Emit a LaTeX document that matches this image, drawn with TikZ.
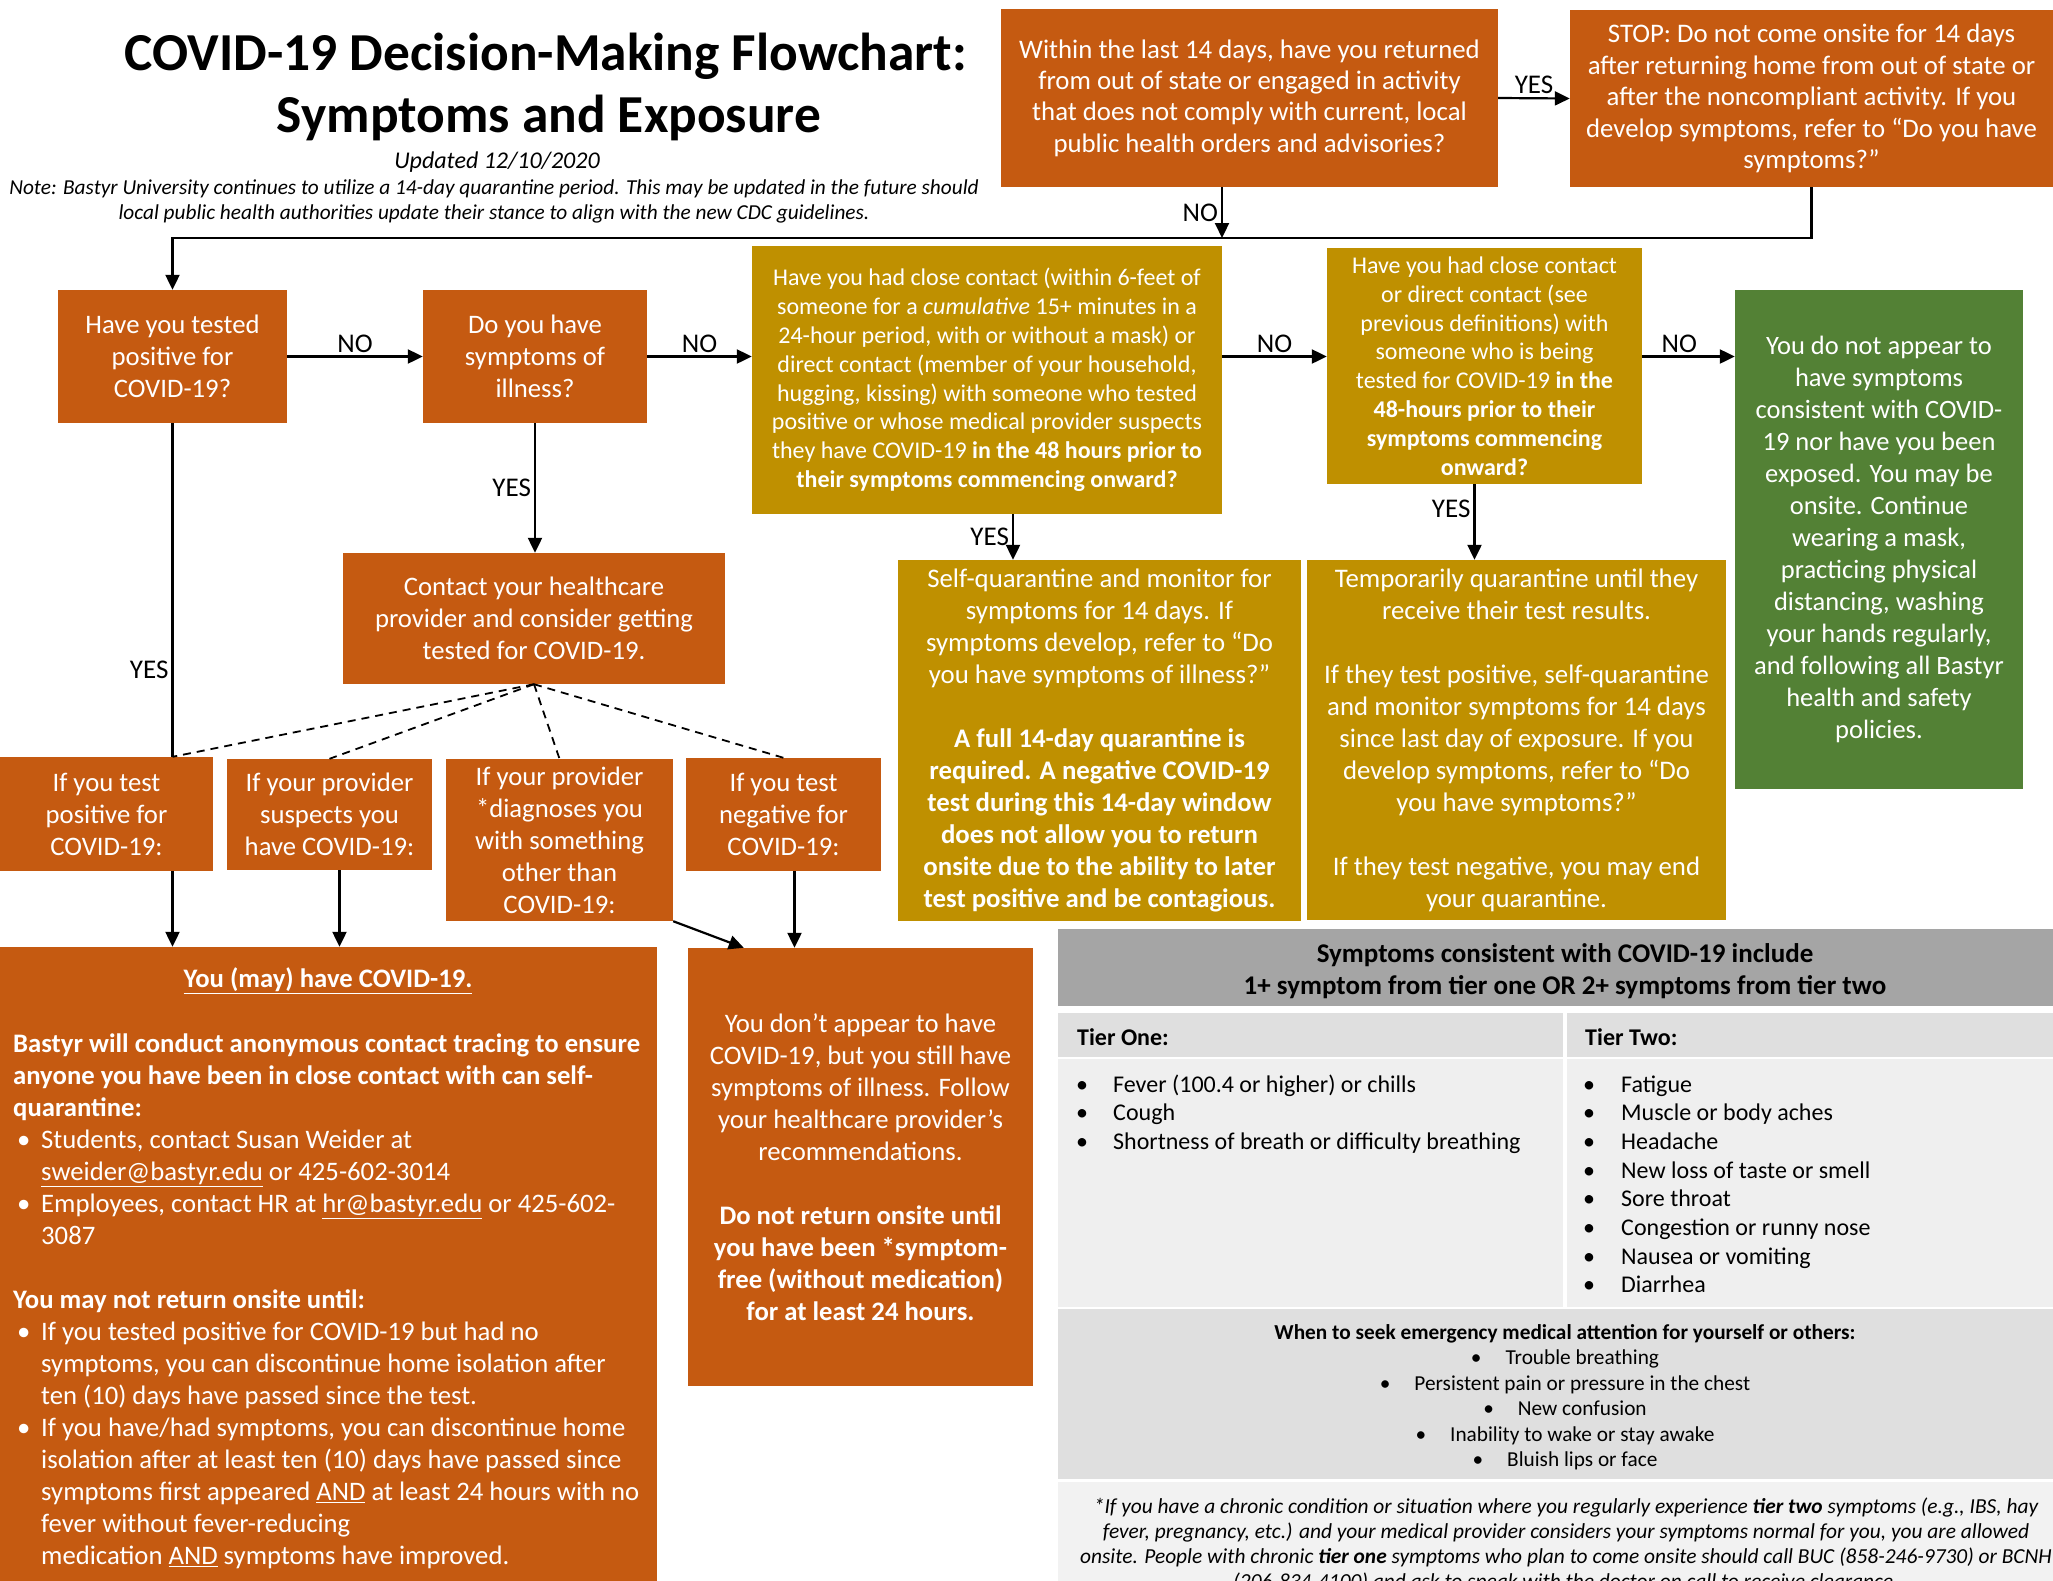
\documentclass[tikz,border=0pt]{standalone}
\usepackage{fontspec}
\setmainfont{Carlito}
\usetikzlibrary{arrows.meta}

\definecolor{rust}{HTML}{C55A11}
\definecolor{mustard}{HTML}{BF9000}
\definecolor{leaf}{HTML}{538135}
\definecolor{headgrey}{HTML}{A5A5A5}
\definecolor{rowgrey}{HTML}{DFDFDF}
\definecolor{cellgrey}{HTML}{EFEFEF}
\definecolor{footgrey}{HTML}{F2F2F2}

\newcommand{\fs}[2]{\fontsize{#1}{#2}\selectfont}
\newcommand{\bulitem}{\makebox[28pt][l]{\hspace{4pt}\textbullet}}
\newcommand{\bulcont}{\hspace*{28pt}}

\begin{document}
\begin{tikzpicture}[x=1pt, y=-1pt,
  flowbox/.style={rectangle, inner sep=0pt, align=center, text=white, font=\fs{26.7}{32}},
  obox/.style={flowbox, fill=rust},
  ybox/.style={flowbox, fill=mustard},
  vbox/.style={flowbox, fill=leaf},
  lbl/.style={font=\fs{27}{30}, inner sep=3pt},
  arr/.style={line width=2.2pt, -{Triangle[length=15pt,width=14pt]}},
  link/.style={line width=2.2pt},
  tiedash/.style={line width=1.8pt, dash pattern=on 8pt off 6pt},
  tieritem/.style={font=\fs{24}{29}, inner sep=0pt, anchor=base west}]
\clip (0,0) rectangle (2053,1580);

% heading
\node[font=\fs{53.4}{64}\bfseries] (title1) at (546,56) {COVID-19 Decision-Making Flowchart:};
\node[font=\fs{53.4}{64}\bfseries] (title2) at (549,118) {Symptoms and Exposure};
\node[font=\fs{24}{29}\itshape] (upd) at (497,162) {Updated 12/10/2020};
\node[font=\fs{21.3}{25}\itshape, align=center] (note) at (494,201) {Note: Bastyr University continues to utilize a 14-day quarantine period. This may be updated in the future should\\local public health authorities update their stance to align with the new CDC guidelines.};

% top row
\node[obox, font=\fs{26.8}{31.4}, minimum width=497pt, minimum height=178pt] (within) at (1249.5,98) {Within the last 14 days, have you returned\\from out of state or engaged in activity\\that does not comply with current, local\\public health orders and advisories?};
\node[obox, font=\fs{26.8}{31.6}, minimum width=483pt, minimum height=177pt] (stop) at (1811.5,98.5) {STOP: Do not come onsite for 14 days\\after returning home from out of state or\\after the noncompliant activity. If you\\develop symptoms, refer to “Do you have\\symptoms?”};

% questions
\node[obox, minimum width=229pt, minimum height=133pt] (tested) at (172.5,356.5) {Have you tested\\positive for\\COVID-19?};
\node[obox, minimum width=224pt, minimum height=133pt] (symptoms) at (535,356.5) {Do you have\\symptoms of\\illness?};
\node[ybox, font=\fs{24}{28.8}, minimum width=470pt, minimum height=268pt] (close) at (987,380) {Have you had close contact (within 6-feet of\\someone for a \textit{cumulative} 15+ minutes in a\\24-hour period, with or without a mask) or\\direct contact (member of your household,\\hugging, kissing) with someone who tested\\positive or whose medical provider suspects\\they have COVID-19 \textbf{in the 48 hours prior to}\\\textbf{their symptoms commencing onward?}};
\node[ybox, font=\fs{24}{28.8}, minimum width=315pt, minimum height=236pt] (direct) at (1484.5,366) {Have you had close contact\\or direct contact (see\\previous definitions) with\\someone who is being\\tested for COVID-19 \textbf{in the}\\\textbf{48-hours prior to their}\\\textbf{symptoms commencing}\\\textbf{onward?}};
\node[vbox, font=\fs{26.5}{32}, minimum width=288pt, minimum height=499pt] (green) at (1879,539.5) {You do not appear to\\have symptoms\\consistent with COVID-\\19 nor have you been\\exposed. You may be\\onsite. Continue\\wearing a mask,\\practicing physical\\distancing, washing\\your hands regularly,\\and following all Bastyr\\health and safety\\policies.};

% outcomes
\node[obox, minimum width=382pt, minimum height=131pt] (contact) at (534,618.5) {Contact your healthcare\\provider and consider getting\\tested for COVID-19.};
\node[ybox, font=\fs{26.8}{32}, minimum width=403pt, minimum height=361pt] (selfq) at (1099.5,740.5) {Self-quarantine and monitor for\\symptoms for 14 days. If\\symptoms develop, refer to “Do\\you have symptoms of illness?”\\[32pt]\textbf{A full 14-day quarantine is}\\\textbf{required. A negative COVID-19}\\\textbf{test during this 14-day window}\\\textbf{does not allow you to return}\\\textbf{onsite due to the ability to later}\\\textbf{test positive and be contagious.}};
\node[ybox, font=\fs{26.8}{32}, minimum width=419pt, minimum height=360pt] (temp) at (1516.5,740) {Temporarily quarantine until they\\receive their test results.\\[32pt]If they test positive, self-quarantine\\and monitor symptoms for 14 days\\since last day of exposure. If you\\develop symptoms, refer to “Do\\you have symptoms?”\\[32pt]If they test negative, you may end\\your quarantine.};

% test results
\node[obox, minimum width=213pt, minimum height=114pt] (testpos) at (106.5,814) {If you test\\positive for\\COVID-19:};
\node[obox, minimum width=205pt, minimum height=111pt] (suspects) at (329.5,814.5) {If your provider\\suspects you\\have COVID-19:};
\node[obox, minimum width=227pt, minimum height=162pt] (diagnoses) at (559.5,840) {If your provider\\*diagnoses you\\with something\\other than\\COVID-19:};
\node[obox, minimum width=195pt, minimum height=113pt] (negative) at (783.5,814.5) {If you test\\negative for\\COVID-19:};

% final boxes
\node[obox, minimum width=657pt, minimum height=638pt] (may) at (328.5,1266) {};
\node[flowbox, font=\fs{26.7}{32}\bfseries] (maytitle) at (328,980.5) {\underline{You (may) have COVID-19.}};
\node[flowbox, align=left, anchor=north west] (maybody) at (13,1033.5) {%
{\bfseries Bastyr will conduct anonymous contact tracing to ensure}\\
{\bfseries anyone you have been in close contact with can self-}\\
{\bfseries quarantine:}\\
\bulitem Students, contact Susan Weider at\\
\bulcont\underline{sweider@bastyr.edu} or 425-602-3014\\
\bulitem Employees, contact HR at \underline{hr@bastyr.edu} or 425-602-\\
\bulcont 3087\\[32pt]
{\bfseries You may not return onsite until:}\\
\bulitem If you tested positive for COVID-19 but had no\\
\bulcont symptoms, you can discontinue home isolation after\\
\bulcont ten (10) days have passed since the test.\\
\bulitem If you have/had symptoms, you can discontinue home\\
\bulcont isolation after at least ten (10) days have passed since\\
\bulcont symptoms first appeared \underline{AND} at least 24 hours with no\\
\bulcont fever without fever-reducing\\
\bulcont medication \underline{AND} symptoms have improved.};
\node[obox, minimum width=345pt, minimum height=438pt] (dont) at (860.5,1167) {You don’t appear to have\\COVID-19, but you still have\\symptoms of illness. Follow\\your healthcare provider’s\\recommendations.\\[32pt]\textbf{Do not return onsite until}\\\textbf{you have been *symptom-}\\\textbf{free (without medication)}\\\textbf{for at least 24 hours.}};

% symptom table
\fill[headgrey] (1058,929) rectangle (2053,1006);
\node[font=\fs{27}{32}\bfseries, align=center] (symhead) at (1565,971) {Symptoms consistent with COVID-19 include\\1+ symptom from tier one OR 2+ symptoms from tier two};
\fill[rowgrey] (1058,1013) rectangle (1563,1057);
\fill[rowgrey] (1567,1013) rectangle (2053,1057);
\node[tieritem, font=\fs{24}{29}\bfseries] (tierone) at (1077,1045) {Tier One:};
\node[tieritem, font=\fs{24}{29}\bfseries] (tiertwo) at (1585,1045) {Tier Two:};
\fill[cellgrey] (1058,1059) rectangle (1563,1307);
\fill[cellgrey] (1567,1059) rectangle (2053,1307);
\foreach \sym [count=\i from 0] in {Fever (100.4 or higher) or chills, Cough, Shortness of breath or difficulty breathing} {
  \node[tieritem] (onebul\i) at (1076,{1092+28.7*\i}) {\textbullet};
  \node[tieritem] (one\i) at (1113,{1092+28.7*\i}) {\sym};
}
\foreach \sym [count=\i from 0] in {Fatigue, Muscle or body aches, Headache, New loss of taste or smell, Sore throat, Congestion or runny nose, Nausea or vomiting, Diarrhea} {
  \node[tieritem] (twobul\i) at (1583,{1092+28.7*\i}) {\textbullet};
  \node[tieritem] (two\i) at (1621,{1092+28.7*\i}) {\sym};
}
\fill[rowgrey] (1058,1309) rectangle (2053,1479);
\node[font=\fs{21.3}{25.5}, align=center] (emerg) at (1565,1397) {\textbf{When to seek emergency medical attention for yourself or others:}\\
\textbullet\hspace{24pt}Trouble breathing\\
\textbullet\hspace{24pt}Persistent pain or pressure in the chest\\
\textbullet\hspace{24pt}New confusion\\
\textbullet\hspace{24pt}Inability to wake or stay awake\\
\textbullet\hspace{24pt}Bluish lips or face};
\fill[footgrey] (1058,1482) rectangle (2053,1600);
\node[font=\fs{21.4}{25}\itshape, align=center, anchor=north] (footnote) at (1566,1494) {*If you have a chronic condition or situation where you regularly experience \textbf{tier two} symptoms (e.g., IBS, hay\\
fever, pregnancy, etc.) and your medical provider considers your symptoms normal for you, you are allowed\\
onsite. People with chronic \textbf{tier one} symptoms who plan to come onsite should call BUC (858-246-9730) or BCNH\\
(206-834-4100) and ask to speak with the doctor on call to receive clearance.};

% connectors
\coordinate (join) at (1222,238);
\coordinate (closeout) at ([xshift=26pt]close.south);
\coordinate (directout) at ([xshift=-10pt]direct.south);
\coordinate (suspout) at ([xshift=10pt]suspects.south);
\coordinate (negout) at ([xshift=11pt]negative.south);
\draw[arr] (within.east) -- node[lbl, above] (yes0) {YES} (stop.west);
\draw[arr] ([xshift=-27.5pt]within.south) -- node[lbl, left] (no0) {NO} (join);
\draw[arr] (stop.south) |- (tested.north |- join) -- (tested.north);
\draw[arr] (tested.east) -- node[lbl, above] (no1) {NO} (symptoms.west);
\draw[arr] (symptoms.east) -- node[lbl, above] (no2) {NO} (symptoms.east -| close.west);
\draw[arr] (symptoms.east -| close.east) -- node[lbl, above] (no3) {NO} (symptoms.east -| direct.west);
\draw[arr] (symptoms.east -| direct.east) -- node[lbl, above, pos=0.4] (no4) {NO} (symptoms.east -| green.west);
\draw[arr] (symptoms.south) -- node[lbl, left] (yes1) {YES} (symptoms.south |- contact.north);
\draw[link] (tested.south) -- node[lbl, left, pos=0.74] (yes2) {YES} (tested.south |- testpos.north);
\draw[arr] (closeout) -- node[lbl, left] (yes3) {YES} (closeout |- selfq.north);
\draw[arr] (directout) -- node[lbl, left, pos=0.33] (yes4) {YES} (directout |- temp.north);
\draw[tiedash] (contact.south) -- (tested.south |- testpos.north);
\foreach \t in {suspects, diagnoses, negative}
  \draw[tiedash] (contact.south) -- (\t.north);
\draw[arr] (tested.south |- testpos.south) -- (tested.south |- may.north);
\draw[arr] (suspout) -- (suspout |- may.north);
\draw[arr] (diagnoses.south east) -- ([xshift=56pt]dont.north west);
\draw[arr] (negout) -- (negout |- dont.north);
\end{tikzpicture}
\end{document}
